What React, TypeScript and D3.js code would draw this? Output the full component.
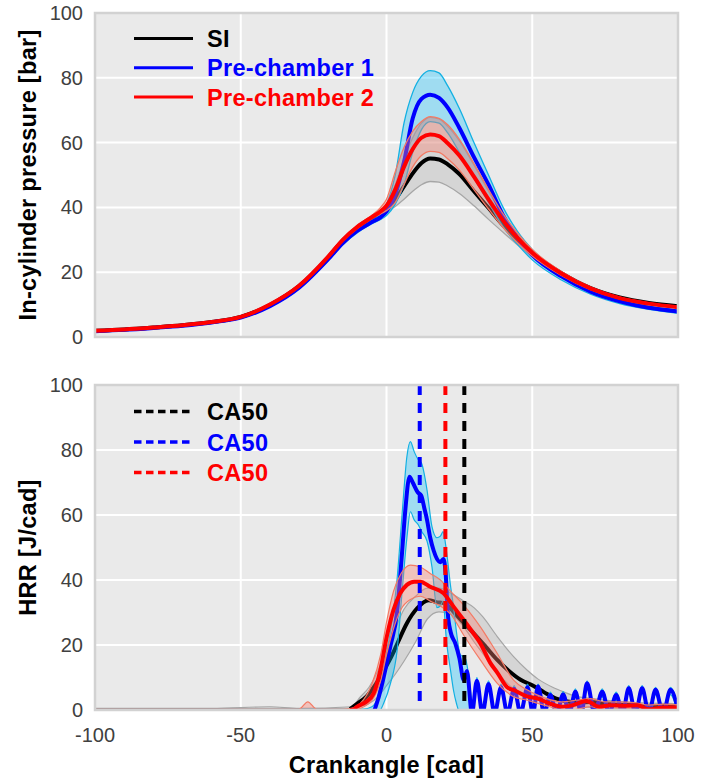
import React from 'react';
import * as d3 from 'd3';

// ---------- Top panel: in-cylinder pressure [bar] on a shared crank-angle grid ----------
const pCad = [-100, -90, -80, -70, -60, -50, -40, -30, -20, -15, -10, -5, -2, 0, 3, 6, 9, 12, 15, 18, 21, 25, 30, 35, 40, 45, 50, 60, 70, 80, 90, 100];

const pSiMean = [1.9, 2.3, 2.9, 3.6, 4.6, 6.2, 9.9, 15.7, 24.6, 29.8, 33.8, 36.8, 38.3, 39.6, 42.5, 46.5, 50.5, 53.7, 55.1, 54.8, 53.3, 50.3, 45.0, 39.8, 34.5, 29.8, 25.8, 19.7, 15.1, 12.2, 10.5, 9.5];
const pSiLo = [1.8, 2.2, 2.8, 3.5, 4.5, 6.0, 9.7, 15.4, 24.3, 29.4, 33.3, 36.4, 37.7, 38.6, 40.3, 42.5, 45.0, 47.0, 48.0, 47.8, 46.6, 44.3, 40.5, 36.3, 32.3, 28.4, 24.8, 19.2, 14.8, 12.0, 10.3, 9.3];
const pSiHi = [2.0, 2.4, 3.0, 3.7, 4.7, 6.4, 10.1, 16.0, 24.9, 30.2, 34.3, 37.4, 39.2, 41.0, 47.0, 55.0, 61.5, 66.0, 67.8, 67.3, 65.0, 60.5, 53.0, 45.0, 37.5, 31.5, 26.8, 20.2, 15.4, 12.4, 10.7, 9.7];

const pPc1Mean = [1.8, 2.2, 2.8, 3.5, 4.5, 6.0, 9.5, 15.2, 24.0, 29.0, 32.8, 35.5, 37.0, 38.8, 44.0, 54.0, 67.5, 73.5, 74.8, 73.8, 70.8, 64.5, 55.5, 47.0, 37.5, 30.5, 25.3, 18.7, 14.0, 11.0, 9.0, 7.9];
const pPc1Lo = [1.7, 2.1, 2.7, 3.4, 4.4, 5.8, 9.3, 14.9, 23.6, 28.5, 32.2, 35.0, 36.3, 37.5, 41.0, 47.0, 57.0, 64.0, 66.5, 66.0, 63.0, 57.0, 49.0, 41.5, 34.0, 28.5, 23.8, 17.6, 13.2, 10.3, 8.5, 7.3];
const pPc1Hi = [1.9, 2.3, 2.9, 3.6, 4.6, 6.2, 9.8, 15.5, 24.4, 29.5, 33.4, 36.0, 38.0, 41.0, 50.0, 66.0, 75.5, 80.5, 82.2, 81.5, 77.5, 70.5, 60.0, 50.0, 40.0, 32.5, 27.0, 19.5, 14.6, 11.5, 9.5, 8.3];

const pPc2Mean = [1.9, 2.3, 2.9, 3.6, 4.6, 6.2, 10.0, 15.8, 24.8, 30.0, 34.0, 37.0, 38.8, 40.5, 45.5, 52.5, 58.0, 61.5, 62.5, 62.0, 59.8, 56.0, 49.5, 42.5, 36.0, 30.5, 26.0, 19.6, 15.0, 12.0, 10.3, 9.2];
const pPc2Lo = [1.8, 2.2, 2.8, 3.5, 4.5, 6.0, 9.8, 15.5, 24.5, 29.6, 33.5, 36.5, 38.0, 39.0, 41.5, 47.0, 52.5, 56.0, 57.3, 57.0, 55.0, 51.5, 45.5, 39.5, 33.8, 29.0, 25.0, 19.0, 14.6, 11.8, 10.1, 9.0];
const pPc2Hi = [2.0, 2.4, 3.0, 3.7, 4.7, 6.4, 10.2, 16.1, 25.1, 30.4, 34.5, 37.6, 40.0, 42.5, 51.0, 58.5, 63.5, 66.5, 68.0, 67.5, 65.5, 61.0, 53.5, 45.5, 38.0, 32.0, 27.0, 20.2, 15.4, 12.3, 10.5, 9.4];

// ---------- Bottom panel: heat release rate [J/cad] ----------
// mean curves: [cad, value]
const hrrSi: [number, number][] = [[-12.5, 0.3], [-10, 2], [-7, 4], [-4, 7.5], [-1, 12], [2, 17], [4, 21], [7, 26.7], [10.5, 31.3], [14.5, 33.8], [17, 33.2], [20, 32.8], [23, 30.2], [26.5, 26.8], [30, 23.5], [34, 19.5], [38, 15.4], [42, 12], [46, 9.3], [50, 7.6], [54, 5.5], [58, 3.6], [62, 2.6], [66, 2.3], [70, 2.5], [75, 2], [80, 1.6], [85, 1.5], [90, 1], [95, 1.2], [100, 1]];
const hrrPc1: [number, number][] = [[-8, -1], [-5, -1], [-3, 3], [-1, 10], [1.3, 19.5], [3.6, 30], [5.3, 48], [6.5, 62], [7.9, 71.8], [9, 70], [10.7, 67], [11.9, 66], [13, 62], [13.9, 58.5], [15, 53], [16.2, 49], [17.3, 46.5], [18.5, 45.5], [19.5, 46.5], [20.3, 42], [21, 30], [22, 24], [23.6, 20.5], [25, 16], [26.5, 9.2], [27.6, 12], [29.3, -1], [31, 9], [32.9, -1], [35, 8], [37.1, -1], [39.3, 7], [41.5, -1], [43.8, 6.5], [46, -1], [48.4, 7], [50.2, -1], [52, 7.2], [54.1, -1], [56.2, 4.6], [58.4, -1], [60.6, 4.8], [62.7, -1], [64.8, 5.6], [66.8, -1], [68.8, 8.2], [71.4, -1], [74, 5.6], [76.4, -1], [78.8, 4.6], [81, -1], [83.1, 6.7], [85.4, -1], [87.7, 6.7], [90, -1], [92.3, 6.2], [94.9, -1], [97.4, 6.2], [100, 0]];
const hrrPc2: [number, number][] = [[-12.5, 0], [-11.3, 0.2], [-10.2, 1], [-7, 2.5], [-4.4, 5.1], [-2.1, 12.3], [0.1, 22.6], [2.4, 30.8], [4.7, 35.9], [7, 38.5], [9.5, 39.5], [11.6, 39.5], [15, 37.9], [19.6, 35.9], [23, 31.8], [26.5, 27.7], [29.5, 24], [32.2, 20.5], [35.6, 14.5], [38, 11.5], [41.4, 7], [44, 6], [48.2, 4.2], [52, 3.5], [56, 2], [60, 1], [64, 1.5], [68.6, 2.8], [73, 1], [77, 1.5], [82, 1.3], [86, 1.5], [90, 0.2], [95, 0.8], [100, 0.8]];

// spread bands: [cad, low, high]
const hrrSiBand: [number, number, number][] = [[-100, 0, 0.5], [-60, 0, 0.5], [-40, 0, 1], [-30, 0, 0.5], [-12, 0, 1], [-9, 1, 4], [-6, 2, 7], [-3, 4, 12], [0, 7.5, 19], [3, 11, 25], [6, 15, 31], [10, 21, 35], [14, 28, 37.5], [18, 30.2, 37.5], [22, 29.5, 36], [26.5, 25.6, 33.5], [30, 21, 31.5], [33, 17.4, 28.7], [38, 11.5, 22.6], [43.6, 6.5, 16.4], [48.2, 4, 12.3], [52, 3, 9.5], [57, 1.8, 7], [61, 1.2, 5.5], [65, 1, 4.2], [70, 0.8, 3.6], [80, 0.5, 2.6], [90, 0.3, 2.1], [100, 0.3, 2]];
const hrrPc1Band: [number, number, number][] = [[-100, 0, 0.3], [-30, 0, 0.3], [-8, -0.5, 0.3], [-5, -1, 1], [-3, -1, 4], [-1, 2, 13], [1.3, 8, 24], [3.6, 18, 40], [5.5, 38, 62], [7, 53, 78], [8.2, 61, 82.6], [9.5, 58.5, 79.5], [10.9, 57, 77], [12, 55, 76], [13.9, 52, 67.7], [15.6, 44, 56.4], [17.3, 31.5, 53], [18.5, 32, 53.5], [19.4, 33.5, 54.9], [20.6, 21, 48.7], [22, 12, 38], [23, 6, 31.8], [24, 2, 24], [25.3, -1, 17], [27, -1, 16], [28.3, -1, 10], [29.5, -1, 2], [31, 7.5, 10], [32.9, -1, 0.5], [35, 6.5, 9], [37.1, -1, 0.5], [39.3, 5.5, 8], [41.5, -1, 0.5], [43.8, 5, 7.5], [46, -1, 0.5], [48.4, 5.5, 8], [50.2, -1, 0.5], [52, 5.7, 8], [54.1, -1, 0.5], [56.2, 3.1, 5.5], [58.4, -1, 0.5], [60.6, 3.3, 5.7], [62.7, -1, 0.5], [64.8, 4.1, 6.5], [66.8, -1, 0.5], [68.8, 6.7, 9], [71.4, -1, 0.5], [74, 4.1, 6.5], [76.4, -1, 0.5], [78.8, 3.1, 5.5], [81, -1, 0.5], [83.1, 5.2, 7.5], [85.4, -1, 0.5], [87.7, 5.2, 7.5], [90, -1, 0.5], [92.3, 4.7, 7], [94.9, -1, 0.5], [97.4, 4.7, 7], [100, -1, 0.5]];
const hrrPc2Band: [number, number, number][] = [[-100, 0, 0.3], [-40, 0, 0.3], [-30, 0, 0.3], [-27, 0, 2.5], [-24, 0, 0.3], [-15, 0, 0.3], [-12, 0, 0.5], [-9, 0.5, 2], [-5, 3, 8], [-2, 9, 17], [0, 17, 27], [2.4, 25, 36.5], [5, 31, 42], [8.2, 34, 44.6], [11.6, 35, 44], [15, 33.5, 42], [18.5, 32, 40], [22, 29.5, 36.5], [26.5, 23, 32.3], [32.2, 15.4, 25.6], [38, 8.2, 17.4], [43.6, 4.1, 9.2], [48.2, 3, 6.2], [52, 2, 4.5], [56, 1, 3.2], [60, 0, 2.5], [65, 0.2, 3], [70, 1, 3.5], [75, 0, 2.5], [80, 0.3, 2.5], [85, 0.2, 2.3], [90, -0.5, 1.5], [95, 0, 1.8], [100, 0, 1.6]];

// CA50 crank angles: SI, Pre-chamber 1, Pre-chamber 2
const ca50 = [26.7, 11.4, 20.2];

const seriesNames = ['SI', 'Pre-chamber 1', 'Pre-chamber 2'];
const seriesColors = ['#000000', '#0000ff', '#ff0000'];
const bandFills = ['#808080', '#00bfff', '#fa8072'];
const bandOpac = [0.2, 0.32, 0.38];
const bandEdges = ['#a6a6a6', '#12b0e2', '#f47a64'];

const xTicks = [-100, -50, 0, 50, 100];
const yTicks = [0, 20, 40, 60, 80, 100];

const FONT = "'Liberation Sans', Arial, Helvetica, sans-serif";

export default function App() {
  const L = 95, R = 678;
  const top = { t: 13, b: 337 };
  const bot = { t: 385, b: 710 };
  const x = d3.scaleLinear().domain([-100, 100]).range([L, R]);
  const yT = d3.scaleLinear().domain([0, 100]).range([top.b, top.t]);
  const yB = d3.scaleLinear().domain([0, 100]).range([bot.b, bot.t]);

  const gridLine = (vals: number[], cad: number[], y: d3.ScaleLinear<number, number>) =>
    d3.line<number>().x((_, i) => x(cad[i])).y((d) => y(d)).curve(d3.curveMonotoneX)(vals) || '';
  const gridArea = (lo: number[], hi: number[], cad: number[], y: d3.ScaleLinear<number, number>) =>
    d3.area<number>().x((_, i) => x(cad[i])).y0((_, i) => y(lo[i])).y1((_, i) => y(hi[i])).curve(d3.curveMonotoneX)(cad) || '';

  const pairLine = (pts: [number, number][]) =>
    d3.line<[number, number]>().x((d) => x(d[0])).y((d) => yB(d[1])).curve(d3.curveMonotoneX)(pts) || '';
  const triArea = (pts: [number, number, number][]) =>
    d3.area<[number, number, number]>().x((d) => x(d[0])).y0((d) => yB(d[1])).y1((d) => yB(d[2])).curve(d3.curveMonotoneX)(pts) || '';
  const triEdge = (pts: [number, number, number][], k: 1 | 2) =>
    d3.line<[number, number, number]>().x((d) => x(d[0])).y((d) => yB(d[k])).curve(d3.curveMonotoneX)(pts) || '';

  const topSeries = [
    { mean: pSiMean, lo: pSiLo, hi: pSiHi },
    { mean: pPc1Mean, lo: pPc1Lo, hi: pPc1Hi },
    { mean: pPc2Mean, lo: pPc2Lo, hi: pPc2Hi },
  ];
  const botSeries = [
    { mean: hrrSi, band: hrrSiBand },
    { mean: hrrPc1, band: hrrPc1Band },
    { mean: hrrPc2, band: hrrPc2Band },
  ];

  const panelBg = (p: { t: number; b: number }, y: d3.ScaleLinear<number, number>) => (
    <g>
      <rect x={L} y={p.t} width={R - L} height={p.b - p.t} fill="#eaeaea" />
      {xTicks.map((t) => (
        <line key={'gx' + t} x1={x(t)} x2={x(t)} y1={p.t} y2={p.b} stroke="#ffffff" strokeWidth={2} />
      ))}
      {yTicks.map((t) => (
        <line key={'gy' + t} x1={L} x2={R} y1={y(t)} y2={y(t)} stroke="#ffffff" strokeWidth={2} />
      ))}
    </g>
  );

  const yTickLabels = (y: d3.ScaleLinear<number, number>) =>
    yTicks.map((t) => (
      <text key={'yl' + t} x={L - 12} y={y(t) + 7} textAnchor="end" fontSize={20} fill="#404040" fontFamily={FONT}>
        {t}
      </text>
    ));

  const frame = (p: { t: number; b: number }) => (
    <rect x={L} y={p.t} width={R - L} height={p.b - p.t} fill="none" stroke="#d2d2d2" strokeWidth={2.5} />
  );

  return (
    <svg width={714} height={781} style={{ position: 'absolute', left: 0, top: 0, background: '#ffffff' }} fontFamily={FONT}>
      <defs>
        <clipPath id="clipTop">
          <rect x={L} y={top.t} width={R - L} height={top.b - top.t} />
        </clipPath>
        <clipPath id="clipBot">
          <rect x={L} y={bot.t} width={R - L} height={bot.b - bot.t} />
        </clipPath>
      </defs>

      {/* ---------- TOP PANEL ---------- */}
      {panelBg(top, yT)}
      <g clipPath="url(#clipTop)">
        {topSeries.map((s, i) => (
          <g key={'ts' + i}>
            <path d={gridArea(s.lo, s.hi, pCad, yT)} fill={bandFills[i]} fillOpacity={bandOpac[i]} stroke="none" />
            <path d={gridLine(s.lo, pCad, yT)} fill="none" stroke={bandEdges[i]} strokeWidth={1.3} />
            <path d={gridLine(s.hi, pCad, yT)} fill="none" stroke={bandEdges[i]} strokeWidth={1.3} />
            <path d={gridLine(s.mean, pCad, yT)} fill="none" stroke={seriesColors[i]} strokeWidth={4} strokeLinejoin="round" />
          </g>
        ))}
      </g>
      {frame(top)}
      {yTickLabels(yT)}
      {/* legend top */}
      {seriesNames.map((n, i) => {
        const ly = 38.5 + i * 29.3;
        return (
          <g key={'lt' + i}>
            <line x1={134} x2={193} y1={ly} y2={ly} stroke={seriesColors[i]} strokeWidth={3} />
            <text x={207} y={ly + 8.5} fontSize={23.5} fontWeight="bold" fill={seriesColors[i]} letterSpacing={0.3}>
              {n}
            </text>
          </g>
        );
      })}
      <text
        transform={`translate(36,${(top.t + top.b) / 2}) rotate(-90)`}
        textAnchor="middle"
        fontSize={23.5}
        fontWeight="bold"
        fill="#000"
        letterSpacing={0.3}
      >
        In-cylinder pressure [bar]
      </text>

      {/* ---------- BOTTOM PANEL ---------- */}
      {panelBg(bot, yB)}
      <g clipPath="url(#clipBot)">
        {botSeries.map((s, i) => (
          <g key={'bs' + i}>
            <path d={triArea(s.band)} fill={bandFills[i]} fillOpacity={bandOpac[i]} stroke="none" />
            <path d={triEdge(s.band, 1)} fill="none" stroke={bandEdges[i]} strokeWidth={1.2} />
            <path d={triEdge(s.band, 2)} fill="none" stroke={bandEdges[i]} strokeWidth={1.2} />
            <path d={pairLine(s.mean)} fill="none" stroke={seriesColors[i]} strokeWidth={4} strokeLinejoin="round" />
          </g>
        ))}
        {ca50.map((c, i) => (
          <line
            key={'ca' + i}
            x1={x(c)}
            x2={x(c)}
            y1={yB(100)}
            y2={yB(0)}
            stroke={seriesColors[i]}
            strokeWidth={4}
            strokeDasharray="10,8"
          />
        ))}
      </g>
      {frame(bot)}
      {yTickLabels(yB)}
      {/* legend bottom */}
      {ca50.map((_, i) => {
        const ly = 411.5 + i * 30.5;
        return (
          <g key={'lb' + i}>
            <line x1={134} x2={192} y1={ly} y2={ly} stroke={seriesColors[i]} strokeWidth={3.5} strokeDasharray="7.5,4.5" />
            <text x={207} y={ly + 8.5} fontSize={23.5} fontWeight="bold" fill={seriesColors[i]} letterSpacing={0.3}>
              CA50
            </text>
          </g>
        );
      })}
      <text
        transform={`translate(36,${(bot.t + bot.b) / 2}) rotate(-90)`}
        textAnchor="middle"
        fontSize={23.5}
        fontWeight="bold"
        fill="#000"
        letterSpacing={0.3}
      >
        HRR [J/cad]
      </text>

      {/* x axis */}
      {xTicks.map((t) => (
        <text key={'xl' + t} x={x(t)} y={742} textAnchor="middle" fontSize={20} fill="#404040">
          {t}
        </text>
      ))}
      <text x={(L + R) / 2} y={773} textAnchor="middle" fontSize={23.5} fontWeight="bold" fill="#000" letterSpacing={0.3}>
        Crankangle [cad]
      </text>
    </svg>
  );
}
